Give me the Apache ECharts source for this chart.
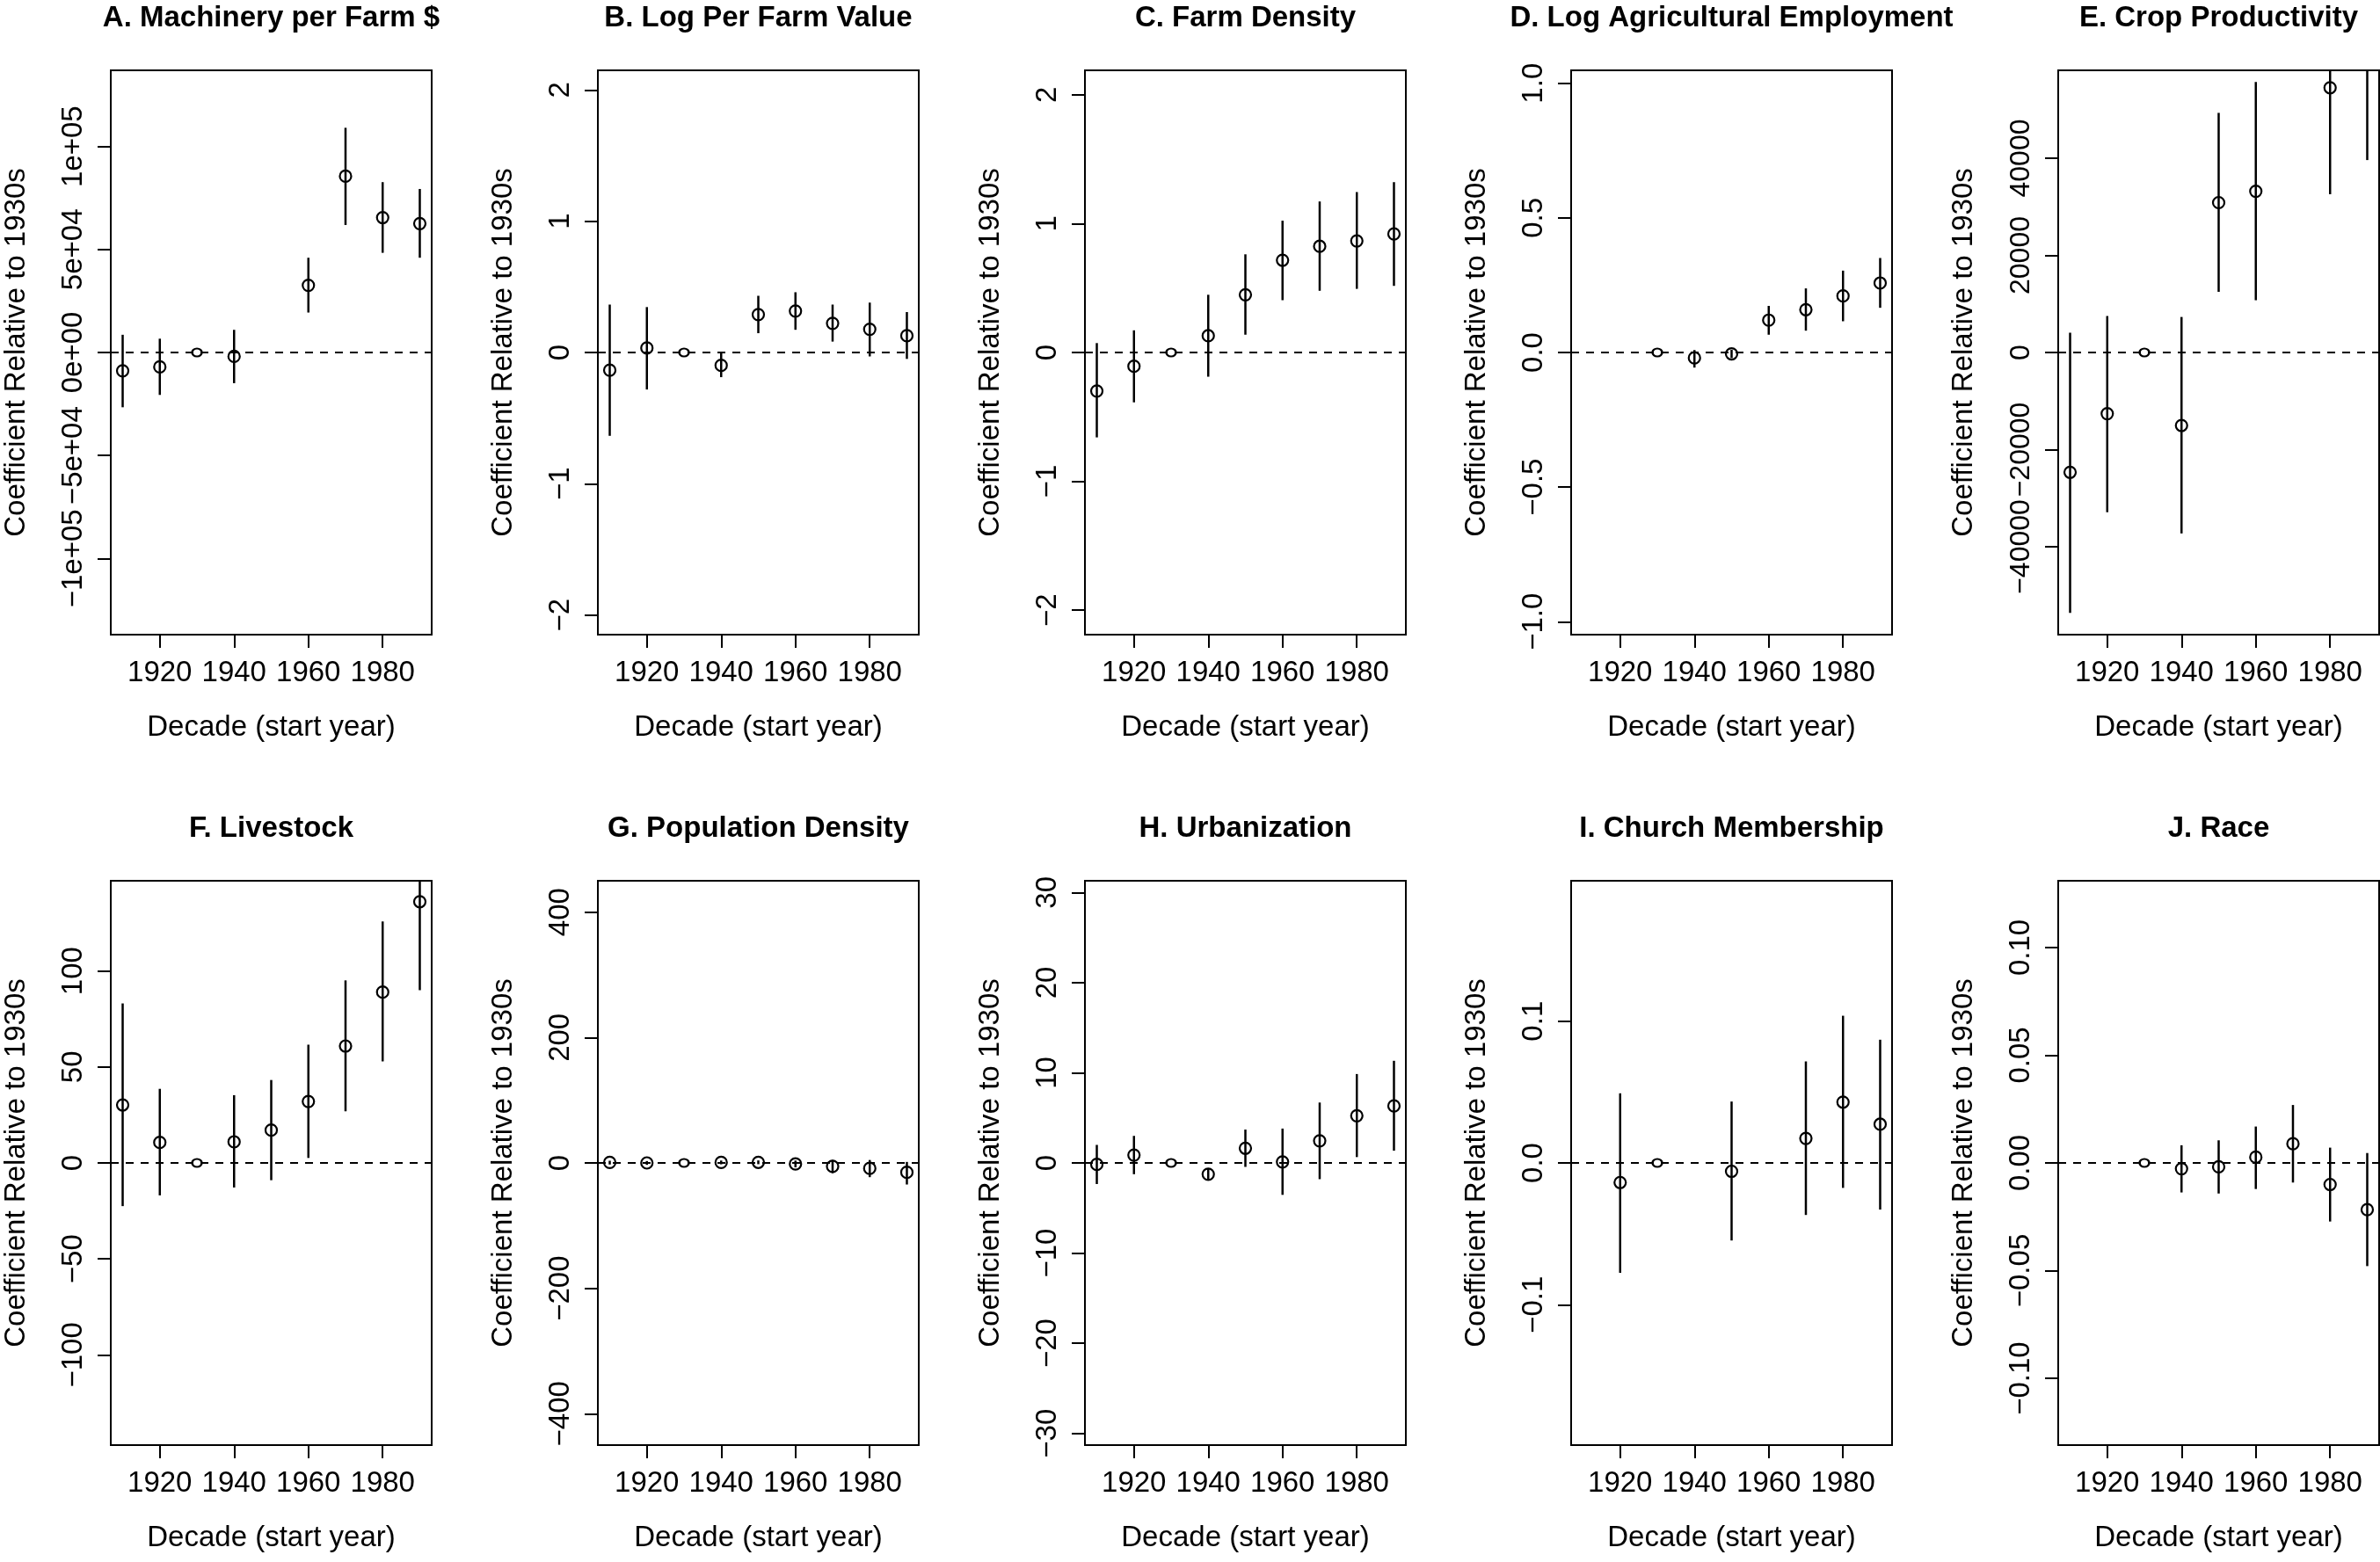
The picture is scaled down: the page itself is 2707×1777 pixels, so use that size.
<!DOCTYPE html>
<html>
<head>
<meta charset="utf-8">
<script src="https://cdn.jsdelivr.net/npm/echarts@6/dist/echarts.min.js"></script>
<style>
html,body{margin:0;padding:0;background:#fff;}
#chart{width:2707px;height:1777px;}
</style>
</head>
<body>
<div id="chart"></div>
<script>
// ---------- data ----------
const decades = [1910, 1920, 1930, 1940, 1950, 1960, 1970, 1980, 1990];
const baseDecade = 1930;
const xTicks = [1920, 1940, 1960, 1980];

const titles = [
  'A. Machinery per Farm $', 'B. Log Per Farm Value', 'C. Farm Density',
  'D. Log Agricultural Employment', 'E. Crop Productivity',
  'F. Livestock', 'G. Population Density', 'H. Urbanization',
  'I. Church Membership', 'J. Race'
];

// A. Machinery per Farm $
const machEst = [-8900, -7000, 0, -1900, null, 32600, 85600, 65500, 62600];
const machLo  = [-26600, -20600, null, -14900, null, 19400, 61900, 48400, 46000];
const machHi  = [8600, 6700, null, 11000, null, 46000, 109100, 82700, 79400];
const machTicks = [-100000, -50000, 0, 50000, 100000];
const machTickLabels = ['\u22121e+05', '\u22125e+04', '0e+00', '5e+04', '1e+05'];

// B. Log Per Farm Value
const valEst = [-0.135, 0.034, 0, -0.098, 0.289, 0.316, 0.222, 0.177, 0.128];
const valLo  = [-0.635, -0.282, null, -0.188, 0.147, 0.173, 0.083, -0.030, -0.049];
const valHi  = [0.365, 0.346, null, -0.004, 0.432, 0.459, 0.365, 0.380, 0.308];
const valTicks = [-2, -1, 0, 1, 2];
const valTickLabels = ['\u22122', '\u22121', '0', '1', '2'];

// C. Farm Density
const densEst = [-0.299, -0.107, 0, 0.130, 0.448, 0.716, 0.824, 0.866, 0.920];
const densLo  = [-0.659, -0.387, null, -0.188, 0.138, 0.406, 0.479, 0.494, 0.517];
const densHi  = [0.073, 0.172, null, 0.448, 0.762, 1.023, 1.172, 1.245, 1.322];
const densTicks = [-2, -1, 0, 1, 2];
const densTickLabels = ['\u22122', '\u22121', '0', '1', '2'];

// D. Log Agricultural Employment
const empEst = [null, null, 0, -0.020, -0.005, 0.120, 0.159, 0.210, 0.258];
const empLo  = [null, null, null, -0.056, -0.021, 0.066, 0.081, 0.116, 0.166];
const empHi  = [null, null, null, 0.009, 0.010, 0.173, 0.238, 0.304, 0.351];
const empTicks = [-1, -0.5, 0, 0.5, 1];
const empTickLabels = ['\u22121.0', '\u22120.5', '0.0', '0.5', '1.0'];

// E. Crop Productivity
const cropEst = [-24670, -12590, 0, -15030, 30860, 33200, null, 54520, 61000];
const cropLo  = [-53600, -32890, null, -37260, 12490, 10760, null, 32590, 39620];
const cropHi  = [4060, 7510, null, 7310, 49340, 55700, null, 76450, 82400];
const cropTicks = [-40000, -20000, 0, 20000, 40000];
const cropTickLabels = ['\u221240000', '\u221220000', '0', '20000', '40000'];

// F. Livestock
const liveEst = [30.2, 10.7, 0, 11.0, 17.1, 32.0, 60.9, 89.0, 136.1];
const liveLo  = [-22.5, -16.9, null, -12.8, -9.0, 2.6, 26.9, 52.9, 90.0];
const liveHi  = [83.1, 38.6, null, 35.3, 43.2, 61.6, 95.1, 125.8, 182.0];
const liveTicks = [-100, -50, 0, 50, 100];
const liveTickLabels = ['\u2212100', '\u221250', '0', '50', '100'];

// G. Population Density
const popEst = [0.8, 0.0, 0, 0.8, 1.0, -1.6, -5.5, -8.6, -14.9];
const popLo  = [-2.5, -3.0, null, -2.2, -2.0, -7.0, -16.4, -22.7, -34.4];
const popHi  = [3.5, 3.0, null, 3.8, 4.0, 3.8, 4.7, 4.7, 1.6];
const popTicks = [-400, -200, 0, 200, 400];
const popTickLabels = ['\u2212400', '\u2212200', '0', '200', '400'];

// H. Urbanization
const urbEst = [-0.16, 0.87, 0, -1.25, 1.63, 0.11, 2.45, 5.23, 6.32];
const urbLo  = [-2.34, -1.25, null, -1.85, -0.44, -3.54, -1.80, 0.65, 1.36];
const urbHi  = [2.00, 3.00, null, -0.65, 3.70, 3.81, 6.70, 9.86, 11.33];
const urbTicks = [-30, -20, -10, 0, 10, 20, 30];
const urbTickLabels = ['\u221230', '\u221220', '\u221210', '0', '10', '20', '30'];

// I. Church Membership
const churchEst = [null, -0.0138, 0, null, -0.0059, null, 0.0173, 0.0429, 0.0273];
const churchLo  = [null, -0.0775, null, null, -0.0547, null, -0.0367, -0.0176, -0.0329];
const churchHi  = [null, 0.0491, null, null, 0.0433, null, 0.0716, 0.1038, 0.0869];
const churchTicks = [-0.1, 0, 0.1];
const churchTickLabels = ['\u22120.1', '0.0', '0.1'];

// J. Race
const raceEst = [null, null, 0, -0.0027, -0.0018, 0.0027, 0.0089, -0.0100, -0.0217];
const raceLo  = [null, null, null, -0.0137, -0.0142, -0.0121, -0.0091, -0.0272, -0.0479];
const raceHi  = [null, null, null, 0.0082, 0.0105, 0.0169, 0.0269, 0.0071, 0.0046];
const raceTicks = [-0.1, -0.05, 0, 0.05, 0.1];
const raceTickLabels = ['\u22120.10', '\u22120.05', '0.00', '0.05', '0.10'];

// y-axis ranges (symmetric)
const yLimits = [137000, 2.15, 2.19, 1.048, 58100, 147, 450, 31.3, 0.199, 0.131];

const panels = [
  [machEst, machLo, machHi, machTicks, machTickLabels],
  [valEst, valLo, valHi, valTicks, valTickLabels],
  [densEst, densLo, densHi, densTicks, densTickLabels],
  [empEst, empLo, empHi, empTicks, empTickLabels],
  [cropEst, cropLo, cropHi, cropTicks, cropTickLabels],
  [liveEst, liveLo, liveHi, liveTicks, liveTickLabels],
  [popEst, popLo, popHi, popTicks, popTickLabels],
  [urbEst, urbLo, urbHi, urbTicks, urbTickLabels],
  [churchEst, churchLo, churchHi, churchTicks, churchTickLabels],
  [raceEst, raceLo, raceHi, raceTicks, raceTickLabels]
];

// ---------- layout ----------
const FONT = '"Liberation Sans", Arial, Helvetica, sans-serif';
const FS = 33;
const yLabelFS = [33, 33, 33, 33, 32, 33, 33, 33, 33, 33];
const colLefts = [126, 680, 1234, 1787, 2341];
const rowTops = [80, 1002];
const boxW = 365, boxH = 642;
const titleTops = [4, 926];
const xMin = 1906.8, xMax = 1993.2;

const grid = [], xAxis = [], yAxis = [], series = [], title = [];

panels.forEach((p, i) => {
  const [est, lo, hi, ticks, tickLabels] = p;
  const col = i % 5, row = Math.floor(i / 5);
  const left = colLefts[col], top = rowTops[row];
  grid.push({left: left, top: top, width: boxW, height: boxH,
    show: true, borderColor: '#000', borderWidth: 2, backgroundColor: 'transparent', containLabel: false});
  title.push({text: titles[i], left: left + boxW / 2, top: titleTops[row], textAlign: 'center', padding: 0,
    textStyle: {fontFamily: FONT, fontSize: FS, fontWeight: 'bold', color: '#000'}});
  xAxis.push({type: 'value', gridIndex: i, min: xMin, max: xMax, position: 'bottom',
    name: 'Decade (start year)', nameLocation: 'middle', nameGap: 89,
    nameTextStyle: {fontFamily: FONT, fontSize: FS, color: '#000'},
    axisLine: {show: false, onZero: false},
    splitLine: {show: false},
    axisTick: {show: true, inside: false, length: 15, customValues: xTicks, lineStyle: {color: '#000', width: 2}},
    axisLabel: {show: true, margin: 27, customValues: xTicks, fontFamily: FONT, fontSize: FS, color: '#000',
      showMinLabel: true, showMaxLabel: true, hideOverlap: false,
      formatter: v => String(Math.round(v))}
  });
  const lim = yLimits[i];
  yAxis.push({type: 'value', gridIndex: i, min: -lim, max: lim, position: 'left',
    name: 'Coefficient Relative to 1930s', nameLocation: 'middle', nameGap: 91, nameRotate: 90,
    nameTextStyle: {fontFamily: FONT, fontSize: FS, color: '#000'},
    axisLine: {show: false, onZero: false},
    splitLine: {show: false},
    axisTick: {show: true, inside: false, length: 15, customValues: ticks, lineStyle: {color: '#000', width: 2}},
    axisLabel: {show: true, rotate: 90, margin: 26, customValues: ticks, fontFamily: FONT, fontSize: yLabelFS[i], color: '#000',
      showMinLabel: true, showMaxLabel: true, hideOverlap: false,
      formatter: v => {
        let k = ticks.findIndex(t => Math.abs(t - v) < Math.abs(lim) * 1e-6);
        return k >= 0 ? tickLabels[k] : '';
      }}
  });
  const pts = [], bars = [];
  decades.forEach((d, j) => {
    if (est[j] !== null) pts.push([d, est[j]]);
    if (lo[j] !== null && hi[j] !== null) bars.push([d, lo[j], hi[j]]);
  });
  series.push({type: 'custom', xAxisIndex: i, yAxisIndex: i, data: bars, silent: true,
    renderItem: (params, api) => {
      const cs = params.coordSys;
      const a = api.coord([api.value(0), api.value(1)]);
      const b = api.coord([api.value(0), api.value(2)]);
      const clamp = y => Math.max(cs.y, Math.min(cs.y + cs.height, y));
      return {type: 'line', shape: {x1: a[0], y1: clamp(a[1]), x2: b[0], y2: clamp(b[1])},
        style: {stroke: '#000', lineWidth: 2.5}};
    }
  });
  series.push({type: 'scatter', xAxisIndex: i, yAxisIndex: i, data: pts, clip: true, silent: true,
    symbol: 'circle',
    symbolSize: v => (v[0] === baseDecade ? [11, 9] : 13),
    itemStyle: {color: 'rgba(0,0,0,0)', borderColor: '#000', borderWidth: 2.2, opacity: 1},
    markLine: {silent: true, symbol: ['none', 'none'], label: {show: false}, animation: false,
      lineStyle: {type: [9, 8], color: '#000', width: 2}, emphasis: {disabled: true},
      data: [{yAxis: 0}]}
  });
});

const chart = echarts.init(document.getElementById('chart'), null, {renderer: 'canvas'});
chart.setOption({
  animation: false,
  backgroundColor: '#fff',
  title: title,
  grid: grid,
  xAxis: xAxis,
  yAxis: yAxis,
  series: series
});
</script>
</body>
</html>
